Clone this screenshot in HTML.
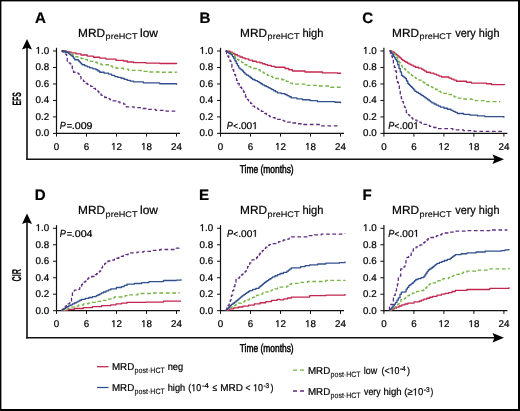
<!DOCTYPE html>
<html><head><meta charset="utf-8"><style>
html,body{margin:0;padding:0;background:#fff;width:520px;height:411px;overflow:hidden}
svg text{font-family:"Liberation Sans", sans-serif;text-rendering:geometricPrecision;fill:#000;stroke:#000;stroke-width:0.22px}
svg{will-change:transform}
.g1{fill:#000;stroke:#000;stroke-width:0.22px;vector-effect:non-scaling-stroke}
</style></head><body>
<svg xmlns="http://www.w3.org/2000/svg" width="520" height="411" viewBox="0 0 520 411" style="position:absolute;left:0;top:0">
<rect x="0" y="0" width="520" height="411" fill="#fff"/>
<line x1="27" y1="47" x2="27" y2="160.0" stroke="#111" stroke-width="1.6"/>
<line x1="26.2" y1="159.2" x2="496" y2="159.2" stroke="#111" stroke-width="1.6"/>
<path d="M27 39 L32 49.5 L27 47.8 L22 49.5 Z" fill="#000"/>
<path d="M504 159.2 L492.5 164.0 L494.5 159.2 L492.5 154.39999999999998 Z" fill="#000"/>
<line x1="27" y1="222" x2="27" y2="338.6" stroke="#111" stroke-width="1.6"/>
<line x1="26.2" y1="337.8" x2="496" y2="337.8" stroke="#111" stroke-width="1.6"/>
<path d="M27 213.5 L32 224.0 L27 222.3 L22 224.0 Z" fill="#000"/>
<path d="M504 337.8 L492.5 342.6 L494.5 337.8 L492.5 333.0 Z" fill="#000"/>
<line x1="56.5" y1="47.8" x2="56.5" y2="134.0" stroke="#111" stroke-width="1.2"/>
<line x1="55.9" y1="133.4" x2="180.0" y2="133.4" stroke="#111" stroke-width="1.2"/>
<line x1="53.0" y1="133.40" x2="56.5" y2="133.40" stroke="#111" stroke-width="1"/>
<text transform="translate(35.58,136.2) scale(1.0000,1)" font-size="9.8">0.0</text>
<line x1="53.0" y1="116.92" x2="56.5" y2="116.92" stroke="#111" stroke-width="1"/>
<text transform="translate(35.58,119.72) scale(1.0000,1)" font-size="9.8">0.2</text>
<line x1="53.0" y1="100.44" x2="56.5" y2="100.44" stroke="#111" stroke-width="1"/>
<text transform="translate(35.58,103.24) scale(1.0000,1)" font-size="9.8">0.4</text>
<line x1="53.0" y1="83.96" x2="56.5" y2="83.96" stroke="#111" stroke-width="1"/>
<text transform="translate(35.58,86.76) scale(1.0000,1)" font-size="9.8">0.6</text>
<line x1="53.0" y1="67.48" x2="56.5" y2="67.48" stroke="#111" stroke-width="1"/>
<text transform="translate(35.58,70.28) scale(1.0000,1)" font-size="9.8">0.8</text>
<line x1="53.0" y1="51.00" x2="56.5" y2="51.00" stroke="#111" stroke-width="1"/>
<text transform="translate(35.58,53.8) scale(1.0000,1)" font-size="9.8"> .0</text><path class="g1" transform="translate(35.58,53.8) scale(0.004785,-0.004785)" d="M515 0L515 1237L197 1010L197 1180L530 1409L696 1409L696 0Z"/>
<line x1="56.5" y1="133.4" x2="56.5" y2="136.6" stroke="#111" stroke-width="1"/>
<text transform="translate(53.77,149.8) scale(1.0000,1)" font-size="9.8">0</text>
<line x1="86.5" y1="133.4" x2="86.5" y2="136.6" stroke="#111" stroke-width="1"/>
<text transform="translate(83.77,149.8) scale(1.0000,1)" font-size="9.8">6</text>
<line x1="116.5" y1="133.4" x2="116.5" y2="136.6" stroke="#111" stroke-width="1"/>
<text transform="translate(111.05,149.8) scale(1.0000,1)" font-size="9.8"> 2</text><path class="g1" transform="translate(111.05,149.8) scale(0.004785,-0.004785)" d="M515 0L515 1237L197 1010L197 1180L530 1409L696 1409L696 0Z"/>
<line x1="146.5" y1="133.4" x2="146.5" y2="136.6" stroke="#111" stroke-width="1"/>
<text transform="translate(141.05,149.8) scale(1.0000,1)" font-size="9.8"> 8</text><path class="g1" transform="translate(141.05,149.8) scale(0.004785,-0.004785)" d="M515 0L515 1237L197 1010L197 1180L530 1409L696 1409L696 0Z"/>
<line x1="176.5" y1="133.4" x2="176.5" y2="136.6" stroke="#111" stroke-width="1"/>
<text transform="translate(171.05,149.8) scale(1.0000,1)" font-size="9.8">24</text>
<path d="M61.60 51.00H66.30V51.95H71.00V52.90H76.00V53.95H81.00V55.00H87.25V56.12H93.50V57.25H99.75V58.17H106.00V59.10H116.00V60.40H123.50V61.00H127.25V62.00H133.50V62.60H146.00V63.10H159.75V63.50H176.60V63.90" fill="none" stroke="#c2264e" stroke-width="1.3" stroke-linejoin="round"/>
<path d="M61.60 51.00H64.42V51.75H67.25V52.50H69.75V53.62H72.25V54.75H73.50V55.67H74.75V56.60H77.88V57.55H81.00V58.50H84.12V59.44H87.25V60.38H90.38V61.31H93.50V62.25H97.25V63.50H101.00V64.75H108.50V66.00H112.25V67.12H116.00V68.25H123.50V69.10H128.50V70.40H141.00V71.40H147.25V72.00H159.75V72.25H176.60V72.60" fill="none" stroke="#76b443" stroke-width="1.3" stroke-linejoin="round" stroke-dasharray="3.8 2.6"/>
<path d="M61.60 51.00H65.05V52.25H68.50V53.50H69.75V54.53H71.00V55.57H72.25V56.60H73.50V58.17H74.75V59.75H78.50V61.00H79.44V61.94H80.38V62.88H81.31V63.81H82.25V64.75H84.75V65.80H87.25V66.85H89.75V67.90H92.88V68.83H96.00V69.75H97.88V71.00H99.75V72.25H104.12V73.17H108.50V74.10H111.62V75.35H114.75V76.60H117.88V77.42H121.00V78.25H124.12V79.33H127.25V80.40H130.38V81.15H133.50V81.90H143.50V82.90H159.75V83.75H176.60V84.75" fill="none" stroke="#33508e" stroke-width="1.3" stroke-linejoin="round"/>
<path d="M61.60 51.00H62.87V52.03H64.13V53.07H65.40V54.10H66.60V58.50H67.25V61.00H68.19V61.94H69.12V62.88H70.06V63.81H71.00V64.75H72.25V68.50H73.50V72.25H76.00V73.17H78.50V74.10H79.75V76.60H81.00V79.10H82.25V80.20H83.50V81.30H84.75V82.40H86.00V83.50H87.56V84.44H89.12V85.38H90.69V86.31H92.25V87.25H93.80V88.30H95.35V89.35H96.90V90.40H97.94V91.60H98.98V92.80H100.02V94.00H101.06V95.20H102.10V96.40H104.70V97.50H107.30V98.60H109.90V99.70H112.50V100.80H116.23V101.93H119.97V103.07H123.70V104.20H125.00V105.50H126.30V106.80H134.10V107.65H141.90V108.50H148.80V109.40H155.70V110.30H166.10V111.10H176.50V111.10" fill="none" stroke="#5e2d80" stroke-width="1.3" stroke-linejoin="round" stroke-dasharray="3.7 2.6"/>
<line x1="220.5" y1="47.8" x2="220.5" y2="134.0" stroke="#111" stroke-width="1.2"/>
<line x1="219.9" y1="133.4" x2="344.0" y2="133.4" stroke="#111" stroke-width="1.2"/>
<line x1="217.0" y1="133.40" x2="220.5" y2="133.40" stroke="#111" stroke-width="1"/>
<text transform="translate(199.58,136.2) scale(1.0000,1)" font-size="9.8">0.0</text>
<line x1="217.0" y1="116.92" x2="220.5" y2="116.92" stroke="#111" stroke-width="1"/>
<text transform="translate(199.58,119.72) scale(1.0000,1)" font-size="9.8">0.2</text>
<line x1="217.0" y1="100.44" x2="220.5" y2="100.44" stroke="#111" stroke-width="1"/>
<text transform="translate(199.58,103.24) scale(1.0000,1)" font-size="9.8">0.4</text>
<line x1="217.0" y1="83.96" x2="220.5" y2="83.96" stroke="#111" stroke-width="1"/>
<text transform="translate(199.58,86.76) scale(1.0000,1)" font-size="9.8">0.6</text>
<line x1="217.0" y1="67.48" x2="220.5" y2="67.48" stroke="#111" stroke-width="1"/>
<text transform="translate(199.58,70.28) scale(1.0000,1)" font-size="9.8">0.8</text>
<line x1="217.0" y1="51.00" x2="220.5" y2="51.00" stroke="#111" stroke-width="1"/>
<text transform="translate(199.58,53.8) scale(1.0000,1)" font-size="9.8"> .0</text><path class="g1" transform="translate(199.58,53.8) scale(0.004785,-0.004785)" d="M515 0L515 1237L197 1010L197 1180L530 1409L696 1409L696 0Z"/>
<line x1="220.5" y1="133.4" x2="220.5" y2="136.6" stroke="#111" stroke-width="1"/>
<text transform="translate(217.77,149.8) scale(1.0000,1)" font-size="9.8">0</text>
<line x1="250.5" y1="133.4" x2="250.5" y2="136.6" stroke="#111" stroke-width="1"/>
<text transform="translate(247.77,149.8) scale(1.0000,1)" font-size="9.8">6</text>
<line x1="280.5" y1="133.4" x2="280.5" y2="136.6" stroke="#111" stroke-width="1"/>
<text transform="translate(275.05,149.8) scale(1.0000,1)" font-size="9.8"> 2</text><path class="g1" transform="translate(275.05,149.8) scale(0.004785,-0.004785)" d="M515 0L515 1237L197 1010L197 1180L530 1409L696 1409L696 0Z"/>
<line x1="310.5" y1="133.4" x2="310.5" y2="136.6" stroke="#111" stroke-width="1"/>
<text transform="translate(305.05,149.8) scale(1.0000,1)" font-size="9.8"> 8</text><path class="g1" transform="translate(305.05,149.8) scale(0.004785,-0.004785)" d="M515 0L515 1237L197 1010L197 1180L530 1409L696 1409L696 0Z"/>
<line x1="340.5" y1="133.4" x2="340.5" y2="136.6" stroke="#111" stroke-width="1"/>
<text transform="translate(335.05,149.8) scale(1.0000,1)" font-size="9.8">24</text>
<path d="M225.60 51.25H230.00V52.25H232.50V53.50H235.00V54.75H237.50V55.88H240.00V57.00H242.50V57.95H245.00V58.90H248.75V60.08H252.50V61.25H256.25V62.08H260.00V62.90H262.50V63.73H265.00V64.57H267.50V65.40H271.25V66.33H275.00V67.25H285.00V68.50H288.75V69.75H292.50V71.00H305.00V72.00H322.50V72.90H337.50V73.25H340.60V73.90" fill="none" stroke="#c2264e" stroke-width="1.3" stroke-linejoin="round"/>
<path d="M225.60 51.25H227.90V52.20H230.20V53.15H232.50V54.10H233.75V55.67H235.00V57.25H236.25V58.30H237.50V59.35H238.75V60.40H240.31V61.49H241.88V62.58H243.44V63.66H245.00V64.75H246.88V65.69H248.75V66.62H250.62V67.56H252.50V68.50H256.25V69.75H260.00V71.00H261.88V72.10H263.75V73.20H265.62V74.30H267.50V75.40H270.00V76.43H272.50V77.47H275.00V78.50H281.90V79.75H284.07V80.58H286.25V81.40H288.33V82.30H290.42V83.20H292.50V84.10H305.00V85.40H317.50V86.00H330.00V87.25H340.60V87.90" fill="none" stroke="#76b443" stroke-width="1.3" stroke-linejoin="round" stroke-dasharray="3.8 2.6"/>
<path d="M225.60 51.25H227.01V52.12H228.43V53.00H229.84V53.88H231.25V54.75H232.50V56.62H233.75V58.50H235.00V61.00H236.25V63.50H237.50V65.70H238.75V67.90H240.00V68.93H241.25V69.97H242.50V71.00H243.75V72.55H245.00V74.10H246.67V75.15H248.33V76.20H250.00V77.25H251.25V78.38H252.50V79.50H255.00V80.55H257.50V81.60H259.17V82.67H260.83V83.73H262.50V84.80H264.38V85.75H266.25V86.70H268.12V87.65H270.00V88.60H271.88V89.67H273.75V90.75H275.62V91.83H277.50V92.90H281.25V93.70H285.00V94.50H287.08V95.63H289.17V96.77H291.25V97.90H296.88V98.83H302.50V99.75H310.00V100.67H317.50V101.60H335.00V102.25H340.60V103.25" fill="none" stroke="#33508e" stroke-width="1.3" stroke-linejoin="round"/>
<path d="M225.60 51.25H226.55V53.62H227.50V56.00H228.75V58.50H230.00V61.00H230.95V64.12H231.90V67.25H232.82V69.75H233.75V72.25H234.68V74.75H235.60V77.25H236.55V80.38H237.50V83.50H239.20V86.00H240.35V87.25H241.50V88.50H242.50V90.25H243.50V92.00H244.50V94.50H245.50V97.00H246.50V98.27H247.50V99.53H248.50V100.80H249.60V102.12H250.70V103.45H251.80V104.77H252.90V106.10H254.60V107.16H256.30V108.22H258.00V109.28H259.70V110.34H261.40V111.40H263.08V112.46H264.76V113.52H266.44V114.58H268.12V115.64H269.80V116.70H272.45V117.60H275.10V118.50H277.75V119.40H280.40V120.30H283.93V121.20H287.47V122.10H291.00V123.00H297.35V123.75H303.70V124.50H320.60V125.80H339.70V126.20" fill="none" stroke="#5e2d80" stroke-width="1.3" stroke-linejoin="round" stroke-dasharray="3.7 2.6"/>
<line x1="383.9" y1="47.8" x2="383.9" y2="134.0" stroke="#111" stroke-width="1.2"/>
<line x1="383.29999999999995" y1="133.4" x2="507.4" y2="133.4" stroke="#111" stroke-width="1.2"/>
<line x1="380.4" y1="133.40" x2="383.9" y2="133.40" stroke="#111" stroke-width="1"/>
<text transform="translate(362.98,136.2) scale(1.0000,1)" font-size="9.8">0.0</text>
<line x1="380.4" y1="116.92" x2="383.9" y2="116.92" stroke="#111" stroke-width="1"/>
<text transform="translate(362.98,119.72) scale(1.0000,1)" font-size="9.8">0.2</text>
<line x1="380.4" y1="100.44" x2="383.9" y2="100.44" stroke="#111" stroke-width="1"/>
<text transform="translate(362.98,103.24) scale(1.0000,1)" font-size="9.8">0.4</text>
<line x1="380.4" y1="83.96" x2="383.9" y2="83.96" stroke="#111" stroke-width="1"/>
<text transform="translate(362.98,86.76) scale(1.0000,1)" font-size="9.8">0.6</text>
<line x1="380.4" y1="67.48" x2="383.9" y2="67.48" stroke="#111" stroke-width="1"/>
<text transform="translate(362.98,70.28) scale(1.0000,1)" font-size="9.8">0.8</text>
<line x1="380.4" y1="51.00" x2="383.9" y2="51.00" stroke="#111" stroke-width="1"/>
<text transform="translate(362.98,53.8) scale(1.0000,1)" font-size="9.8"> .0</text><path class="g1" transform="translate(362.98,53.8) scale(0.004785,-0.004785)" d="M515 0L515 1237L197 1010L197 1180L530 1409L696 1409L696 0Z"/>
<line x1="383.9" y1="133.4" x2="383.9" y2="136.6" stroke="#111" stroke-width="1"/>
<text transform="translate(381.17,149.8) scale(1.0000,1)" font-size="9.8">0</text>
<line x1="413.9" y1="133.4" x2="413.9" y2="136.6" stroke="#111" stroke-width="1"/>
<text transform="translate(411.17,149.8) scale(1.0000,1)" font-size="9.8">6</text>
<line x1="443.9" y1="133.4" x2="443.9" y2="136.6" stroke="#111" stroke-width="1"/>
<text transform="translate(438.45,149.8) scale(1.0000,1)" font-size="9.8"> 2</text><path class="g1" transform="translate(438.45,149.8) scale(0.004785,-0.004785)" d="M515 0L515 1237L197 1010L197 1180L530 1409L696 1409L696 0Z"/>
<line x1="473.9" y1="133.4" x2="473.9" y2="136.6" stroke="#111" stroke-width="1"/>
<text transform="translate(468.45,149.8) scale(1.0000,1)" font-size="9.8"> 8</text><path class="g1" transform="translate(468.45,149.8) scale(0.004785,-0.004785)" d="M515 0L515 1237L197 1010L197 1180L530 1409L696 1409L696 0Z"/>
<line x1="503.9" y1="133.4" x2="503.9" y2="136.6" stroke="#111" stroke-width="1"/>
<text transform="translate(498.45,149.8) scale(1.0000,1)" font-size="9.8">24</text>
<path d="M389.60 51.00H391.80V51.95H394.00V52.90H395.25V53.93H396.50V54.97H397.75V56.00H399.00V57.10H400.25V58.20H401.50V59.30H402.75V60.40H404.31V61.32H405.88V62.25H407.44V63.17H409.00V64.10H411.08V65.15H413.17V66.20H415.25V67.25H418.38V68.17H421.50V69.10H423.17V70.15H424.83V71.20H426.50V72.25H430.25V73.17H434.00V74.10H436.50V75.07H439.00V76.03H441.50V77.00H449.00V78.10H451.50V79.15H454.00V80.20H456.50V81.25H466.50V82.25H471.50V83.10H486.50V83.75H491.50V84.60H504.60V85.00" fill="none" stroke="#c2264e" stroke-width="1.3" stroke-linejoin="round"/>
<path d="M389.60 51.00H391.01V51.94H392.43V52.88H393.84V53.81H395.25V54.75H396.50V57.25H397.75V59.75H398.69V61.31H399.62V62.88H400.56V64.44H401.50V66.00H402.50V67.00H403.50V68.00H404.50V69.00H405.50V70.00H406.50V71.00H407.75V72.10H409.00V73.20H410.25V74.30H411.50V75.40H412.75V76.33H414.00V77.25H415.25V78.17H416.50V79.10H419.00V80.05H421.50V81.00H422.75V81.94H424.00V82.88H425.25V83.81H426.50V84.75H428.38V85.69H430.25V86.62H432.12V87.56H434.00V88.50H435.70V89.48H437.40V90.46H439.10V91.44H440.80V92.42H442.50V93.40H447.00V94.50H451.50V95.60H454.00V96.85H456.50V98.10H462.75V99.00H471.50V99.40H475.25V100.60H485.25V101.60H500.25V101.60" fill="none" stroke="#76b443" stroke-width="1.3" stroke-linejoin="round" stroke-dasharray="3.8 2.6"/>
<path d="M389.60 51.00H390.65V52.25H391.70V53.50H392.75V54.75H393.69V56.31H394.62V57.88H395.56V59.44H396.50V61.00H397.75V64.75H399.00V68.50H400.25V71.95H401.50V75.40H402.75V76.43H404.00V77.47H405.25V78.50H406.50V81.00H407.75V83.50H408.69V84.44H409.62V85.38H410.56V86.31H411.50V87.25H412.67V88.60H413.83V89.95H415.00V91.30H416.70V92.36H418.40V93.42H420.10V94.48H421.80V95.54H423.50V96.60H424.92V97.65H426.33V98.70H427.75V99.75H429.17V100.80H430.58V101.85H432.00V102.90H434.10V103.98H436.20V105.05H438.30V106.12H440.40V107.20H443.93V108.23H447.47V109.27H451.00V110.30H453.10V111.37H455.20V112.43H457.30V113.50H463.65V114.35H470.00V115.20H477.45V115.95H484.90V116.70H503.90V117.70" fill="none" stroke="#33508e" stroke-width="1.3" stroke-linejoin="round"/>
<path d="M389.60 51.00H390.55V53.50H391.50V56.00H392.45V59.75H393.40V63.50H394.32V67.25H395.25V71.00H396.50V78.50H397.45V82.25H398.40V86.00H399.32V90.38H400.25V94.75H401.30V98.70H402.37V101.53H403.43V104.37H404.50V107.20H405.40V109.95H406.30V112.70H407.37V113.75H408.43V114.80H409.50V115.85H410.57V116.90H411.63V117.95H412.70V119.00H414.82V120.08H416.95V121.15H419.07V122.22H421.20V123.30H424.00V124.33H426.80V125.37H429.60V126.40H433.80V127.50H438.00V128.60H452.90V129.80H463.45V130.55H474.00V131.30H503.70V131.80" fill="none" stroke="#5e2d80" stroke-width="1.3" stroke-linejoin="round" stroke-dasharray="3.7 2.6"/>
<line x1="56.5" y1="225.1" x2="56.5" y2="311.3" stroke="#111" stroke-width="1.2"/>
<line x1="55.9" y1="310.7" x2="180.0" y2="310.7" stroke="#111" stroke-width="1.2"/>
<line x1="53.0" y1="310.70" x2="56.5" y2="310.70" stroke="#111" stroke-width="1"/>
<text transform="translate(35.58,313.5) scale(1.0000,1)" font-size="9.8">0.0</text>
<line x1="53.0" y1="294.22" x2="56.5" y2="294.22" stroke="#111" stroke-width="1"/>
<text transform="translate(35.58,297.02) scale(1.0000,1)" font-size="9.8">0.2</text>
<line x1="53.0" y1="277.74" x2="56.5" y2="277.74" stroke="#111" stroke-width="1"/>
<text transform="translate(35.58,280.54) scale(1.0000,1)" font-size="9.8">0.4</text>
<line x1="53.0" y1="261.26" x2="56.5" y2="261.26" stroke="#111" stroke-width="1"/>
<text transform="translate(35.58,264.06) scale(1.0000,1)" font-size="9.8">0.6</text>
<line x1="53.0" y1="244.78" x2="56.5" y2="244.78" stroke="#111" stroke-width="1"/>
<text transform="translate(35.58,247.58) scale(1.0000,1)" font-size="9.8">0.8</text>
<line x1="53.0" y1="228.30" x2="56.5" y2="228.30" stroke="#111" stroke-width="1"/>
<text transform="translate(35.58,231.1) scale(1.0000,1)" font-size="9.8"> .0</text><path class="g1" transform="translate(35.58,231.1) scale(0.004785,-0.004785)" d="M515 0L515 1237L197 1010L197 1180L530 1409L696 1409L696 0Z"/>
<line x1="56.5" y1="310.7" x2="56.5" y2="313.9" stroke="#111" stroke-width="1"/>
<text transform="translate(53.77,327.1) scale(1.0000,1)" font-size="9.8">0</text>
<line x1="86.5" y1="310.7" x2="86.5" y2="313.9" stroke="#111" stroke-width="1"/>
<text transform="translate(83.77,327.1) scale(1.0000,1)" font-size="9.8">6</text>
<line x1="116.5" y1="310.7" x2="116.5" y2="313.9" stroke="#111" stroke-width="1"/>
<text transform="translate(111.05,327.1) scale(1.0000,1)" font-size="9.8"> 2</text><path class="g1" transform="translate(111.05,327.1) scale(0.004785,-0.004785)" d="M515 0L515 1237L197 1010L197 1180L530 1409L696 1409L696 0Z"/>
<line x1="146.5" y1="310.7" x2="146.5" y2="313.9" stroke="#111" stroke-width="1"/>
<text transform="translate(141.05,327.1) scale(1.0000,1)" font-size="9.8"> 8</text><path class="g1" transform="translate(141.05,327.1) scale(0.004785,-0.004785)" d="M515 0L515 1237L197 1010L197 1180L530 1409L696 1409L696 0Z"/>
<line x1="176.5" y1="310.7" x2="176.5" y2="313.9" stroke="#111" stroke-width="1"/>
<text transform="translate(171.05,327.1) scale(1.0000,1)" font-size="9.8">24</text>
<path d="M61.50 310.30H67.90V309.40H74.30V308.50H83.40V307.55H92.50V306.60H101.65V305.70H110.80V304.80H116.00V303.90H121.50V303.15H127.00V302.40H145.20V302.10H163.50V301.20H181.00V301.20" fill="none" stroke="#c2264e" stroke-width="1.3" stroke-linejoin="round"/>
<path d="M61.50 310.30H64.70V309.25H67.90V308.20H71.10V307.15H74.30V306.10H78.85V305.00H83.40V303.90H87.95V303.15H92.50V302.40H98.00V301.35H103.50V300.30H107.13V299.20H110.77V298.10H114.40V297.00H123.30V296.60H125.15V295.70H127.00V294.80H137.90V293.50H152.50V293.00H167.10V293.00H179.00V292.00" fill="none" stroke="#76b443" stroke-width="1.3" stroke-linejoin="round" stroke-dasharray="3.8 2.6"/>
<path d="M61.50 310.30H62.88V309.38H64.25V308.45H65.62V307.53H67.00V306.60H68.83V305.70H70.65V304.80H72.47V303.90H74.30V303.00H76.12V302.07H77.95V301.15H79.77V300.23H81.60V299.30H85.25V298.40H88.90V297.50H92.55V296.60H96.20V295.70H98.03V294.77H99.85V293.85H101.67V292.93H103.50V292.00H105.93V290.97H108.37V289.93H110.80V288.90H116.30V287.50H121.50V286.60H124.25V285.40H127.00V284.20H134.30V283.50H141.60V282.55H148.90V281.60H163.50V280.50H176.30V280.20H181.00V279.30" fill="none" stroke="#33508e" stroke-width="1.3" stroke-linejoin="round"/>
<path d="M61.50 310.30H62.42V309.38H63.33V308.47H64.25V307.55H65.17V306.63H66.08V305.72H67.00V304.80H68.20V303.90H69.40V303.00H70.60V302.10H71.50V297.55H72.40V293.00H73.35V291.60H74.30V290.20H78.80V289.30H79.73V287.77H80.67V286.23H81.60V284.70H82.50V283.80H83.40V282.90H84.30V282.00H85.20V281.10H86.12V280.18H87.05V279.25H87.98V278.32H88.90V277.40H91.60V276.50H94.30V275.60H95.40V274.68H96.50V273.76H97.60V272.84H98.70V271.92H99.80V271.00H100.72V269.40H101.65V267.80H102.58V266.20H103.50V264.60H104.62V263.70H105.75V262.80H106.88V261.90H108.00V261.00H111.20V260.10H114.40V259.20H116.62V258.27H118.85V257.35H121.08V256.43H123.30V255.50H125.73V254.60H128.17V253.70H130.60V252.80H137.00V252.05H143.40V251.30H151.60V250.40H159.80V249.50H176.30V248.20H179.00V247.30" fill="none" stroke="#5e2d80" stroke-width="1.3" stroke-linejoin="round" stroke-dasharray="3.7 2.6"/>
<line x1="220.5" y1="225.1" x2="220.5" y2="311.3" stroke="#111" stroke-width="1.2"/>
<line x1="219.9" y1="310.7" x2="344.0" y2="310.7" stroke="#111" stroke-width="1.2"/>
<line x1="217.0" y1="310.70" x2="220.5" y2="310.70" stroke="#111" stroke-width="1"/>
<text transform="translate(199.58,313.5) scale(1.0000,1)" font-size="9.8">0.0</text>
<line x1="217.0" y1="294.22" x2="220.5" y2="294.22" stroke="#111" stroke-width="1"/>
<text transform="translate(199.58,297.02) scale(1.0000,1)" font-size="9.8">0.2</text>
<line x1="217.0" y1="277.74" x2="220.5" y2="277.74" stroke="#111" stroke-width="1"/>
<text transform="translate(199.58,280.54) scale(1.0000,1)" font-size="9.8">0.4</text>
<line x1="217.0" y1="261.26" x2="220.5" y2="261.26" stroke="#111" stroke-width="1"/>
<text transform="translate(199.58,264.06) scale(1.0000,1)" font-size="9.8">0.6</text>
<line x1="217.0" y1="244.78" x2="220.5" y2="244.78" stroke="#111" stroke-width="1"/>
<text transform="translate(199.58,247.58) scale(1.0000,1)" font-size="9.8">0.8</text>
<line x1="217.0" y1="228.30" x2="220.5" y2="228.30" stroke="#111" stroke-width="1"/>
<text transform="translate(199.58,231.1) scale(1.0000,1)" font-size="9.8"> .0</text><path class="g1" transform="translate(199.58,231.1) scale(0.004785,-0.004785)" d="M515 0L515 1237L197 1010L197 1180L530 1409L696 1409L696 0Z"/>
<line x1="220.5" y1="310.7" x2="220.5" y2="313.9" stroke="#111" stroke-width="1"/>
<text transform="translate(217.77,327.1) scale(1.0000,1)" font-size="9.8">0</text>
<line x1="250.5" y1="310.7" x2="250.5" y2="313.9" stroke="#111" stroke-width="1"/>
<text transform="translate(247.77,327.1) scale(1.0000,1)" font-size="9.8">6</text>
<line x1="280.5" y1="310.7" x2="280.5" y2="313.9" stroke="#111" stroke-width="1"/>
<text transform="translate(275.05,327.1) scale(1.0000,1)" font-size="9.8"> 2</text><path class="g1" transform="translate(275.05,327.1) scale(0.004785,-0.004785)" d="M515 0L515 1237L197 1010L197 1180L530 1409L696 1409L696 0Z"/>
<line x1="310.5" y1="310.7" x2="310.5" y2="313.9" stroke="#111" stroke-width="1"/>
<text transform="translate(305.05,327.1) scale(1.0000,1)" font-size="9.8"> 8</text><path class="g1" transform="translate(305.05,327.1) scale(0.004785,-0.004785)" d="M515 0L515 1237L197 1010L197 1180L530 1409L696 1409L696 0Z"/>
<line x1="340.5" y1="310.7" x2="340.5" y2="313.9" stroke="#111" stroke-width="1"/>
<text transform="translate(335.05,327.1) scale(1.0000,1)" font-size="9.8">24</text>
<path d="M225.70 310.10H229.70V308.95H233.70V307.80H238.30V307.00H242.90V306.20H248.60V305.05H254.30V303.90H260.05V302.75H265.80V301.60H271.50V300.45H277.20V299.30H280.00V299.80H283.80V298.90H287.60V298.00H291.40V297.10H309.70V295.70H325.80V295.20H345.00V294.10" fill="none" stroke="#c2264e" stroke-width="1.3" stroke-linejoin="round"/>
<path d="M225.70 310.10H227.30V309.18H228.90V308.26H230.50V307.34H232.10V306.42H233.70V305.50H236.00V304.35H238.30V303.20H241.37V302.07H244.43V300.93H247.50V299.80H249.32V298.88H251.14V297.96H252.96V297.04H254.78V296.12H256.60V295.20H259.67V294.07H262.73V292.93H265.80V291.80H268.83V290.80H271.87V289.80H274.90V288.80H277.45V288.00H280.00V287.20H286.90V286.10H288.40V285.17H289.90V284.23H291.40V283.30H299.45V282.40H307.50V281.50H325.80V280.40H345.00V279.90" fill="none" stroke="#76b443" stroke-width="1.3" stroke-linejoin="round" stroke-dasharray="3.8 2.6"/>
<path d="M225.70 310.10H226.65V309.15H227.60V308.20H228.55V307.25H229.50V306.30H230.45V305.35H231.40V304.40H232.93V303.27H234.47V302.13H236.00V301.00H237.15V300.03H238.30V299.07H239.45V298.10H240.60V297.13H241.75V296.17H242.90V295.20H244.26V294.28H245.62V293.36H246.98V292.44H248.34V291.52H249.70V290.60H252.77V289.47H255.83V288.33H258.90V287.20H260.05V286.25H261.20V285.30H262.35V284.35H263.50V283.40H264.65V282.45H265.80V281.50H267.16V280.58H268.52V279.66H269.88V278.74H271.24V277.82H272.60V276.90H275.07V275.77H277.53V274.63H280.00V273.50H283.45V272.35H286.90V271.20H288.40V270.07H289.90V268.93H291.40V267.80H300.60V266.60H305.15V265.70H309.70V264.80H317.75V264.00H325.80V263.20H339.50V262.70H345.00V261.40" fill="none" stroke="#33508e" stroke-width="1.3" stroke-linejoin="round"/>
<path d="M225.70 310.10H226.85V307.80H228.00V305.50H229.15V302.65H230.30V299.80H231.45V295.20H232.60V290.60H233.75V286.60H234.90V282.60H236.00V278.10H239.50V276.90H240.45V275.95H241.40V275.00H242.35V274.05H243.30V273.10H244.25V272.15H245.20V271.20H246.33V268.90H247.47V266.60H248.60V264.30H249.73V262.80H250.87V261.30H252.00V259.80H254.30V258.65H256.60V257.50H257.52V256.34H258.44V255.18H259.36V254.02H260.28V252.86H261.20V251.70H262.35V250.57H263.50V249.45H264.65V248.32H265.80V247.20H266.93V246.32H268.05V245.45H269.18V244.57H270.30V243.70H277.20V242.60H278.60V241.70H280.00V240.80H283.45V240.00H286.90V239.20H289.15V238.05H291.40V236.90H307.50V235.70H314.35V234.90H321.20V234.10H345.00V233.40" fill="none" stroke="#5e2d80" stroke-width="1.3" stroke-linejoin="round" stroke-dasharray="3.7 2.6"/>
<line x1="383.9" y1="225.1" x2="383.9" y2="311.3" stroke="#111" stroke-width="1.2"/>
<line x1="383.29999999999995" y1="310.7" x2="507.4" y2="310.7" stroke="#111" stroke-width="1.2"/>
<line x1="380.4" y1="310.70" x2="383.9" y2="310.70" stroke="#111" stroke-width="1"/>
<text transform="translate(362.98,313.5) scale(1.0000,1)" font-size="9.8">0.0</text>
<line x1="380.4" y1="294.22" x2="383.9" y2="294.22" stroke="#111" stroke-width="1"/>
<text transform="translate(362.98,297.02) scale(1.0000,1)" font-size="9.8">0.2</text>
<line x1="380.4" y1="277.74" x2="383.9" y2="277.74" stroke="#111" stroke-width="1"/>
<text transform="translate(362.98,280.54) scale(1.0000,1)" font-size="9.8">0.4</text>
<line x1="380.4" y1="261.26" x2="383.9" y2="261.26" stroke="#111" stroke-width="1"/>
<text transform="translate(362.98,264.06) scale(1.0000,1)" font-size="9.8">0.6</text>
<line x1="380.4" y1="244.78" x2="383.9" y2="244.78" stroke="#111" stroke-width="1"/>
<text transform="translate(362.98,247.58) scale(1.0000,1)" font-size="9.8">0.8</text>
<line x1="380.4" y1="228.30" x2="383.9" y2="228.30" stroke="#111" stroke-width="1"/>
<text transform="translate(362.98,231.1) scale(1.0000,1)" font-size="9.8"> .0</text><path class="g1" transform="translate(362.98,231.1) scale(0.004785,-0.004785)" d="M515 0L515 1237L197 1010L197 1180L530 1409L696 1409L696 0Z"/>
<line x1="383.9" y1="310.7" x2="383.9" y2="313.9" stroke="#111" stroke-width="1"/>
<text transform="translate(381.17,327.1) scale(1.0000,1)" font-size="9.8">0</text>
<line x1="413.9" y1="310.7" x2="413.9" y2="313.9" stroke="#111" stroke-width="1"/>
<text transform="translate(411.17,327.1) scale(1.0000,1)" font-size="9.8">6</text>
<line x1="443.9" y1="310.7" x2="443.9" y2="313.9" stroke="#111" stroke-width="1"/>
<text transform="translate(438.45,327.1) scale(1.0000,1)" font-size="9.8"> 2</text><path class="g1" transform="translate(438.45,327.1) scale(0.004785,-0.004785)" d="M515 0L515 1237L197 1010L197 1180L530 1409L696 1409L696 0Z"/>
<line x1="473.9" y1="310.7" x2="473.9" y2="313.9" stroke="#111" stroke-width="1"/>
<text transform="translate(468.45,327.1) scale(1.0000,1)" font-size="9.8"> 8</text><path class="g1" transform="translate(468.45,327.1) scale(0.004785,-0.004785)" d="M515 0L515 1237L197 1010L197 1180L530 1409L696 1409L696 0Z"/>
<line x1="503.9" y1="310.7" x2="503.9" y2="313.9" stroke="#111" stroke-width="1"/>
<text transform="translate(498.45,327.1) scale(1.0000,1)" font-size="9.8">24</text>
<path d="M389.50 310.10H391.83V309.10H394.17V308.10H396.50V307.10H399.15V306.00H401.80V304.90H404.85V304.00H407.90V303.10H414.00V301.80H419.30V301.00H421.55V300.10H423.80V299.20H426.73V298.23H429.67V297.27H432.60V296.30H437.00V295.20H441.40V294.10H445.05V293.35H448.70V292.60H452.00V291.50H455.30V290.40H466.90V289.50H489.80V288.40H509.00V287.20" fill="none" stroke="#c2264e" stroke-width="1.3" stroke-linejoin="round"/>
<path d="M389.50 310.10H391.30V309.30H392.60V308.43H393.90V307.55H395.20V306.68H396.50V305.80H397.80V304.05H399.10V302.30H400.90V299.60H404.40V298.30H405.57V297.43H406.73V296.57H407.90V295.70H409.37V294.83H410.83V293.97H412.30V293.10H414.45V292.20H416.60V291.30H420.20V290.50H423.80V289.70H424.80V288.73H425.80V287.77H426.80V286.80H427.77V285.83H428.73V284.87H429.70V283.90H432.60V282.80H435.50V281.70H437.97V280.70H440.43V279.70H442.90V278.70H448.70V277.30H450.90V276.33H453.10V275.37H455.30V274.40H459.17V273.33H463.03V272.27H466.90V271.20H478.35V270.05H489.80V268.90H509.00V267.80" fill="none" stroke="#76b443" stroke-width="1.3" stroke-linejoin="round" stroke-dasharray="3.8 2.6"/>
<path d="M389.50 310.10H390.67V308.67H391.83V307.23H393.00V305.80H394.30V304.05H395.60V302.30H396.95V300.10H398.30V297.90H400.00V294.40H401.30V292.20H404.40V291.80H406.10V289.10H407.45V287.35H408.80V285.60H409.97V284.73H411.13V283.87H412.30V283.00H413.47V281.83H414.63V280.67H415.80V279.50H418.00V278.70H420.90V277.60H423.80V276.50H424.90V274.88H426.00V273.25H427.10V271.62H428.20V270.00H429.67V269.00H431.13V268.00H432.60V267.00H433.70V266.10H434.80V265.20H435.90V264.30H437.00V263.40H439.43V262.43H441.87V261.47H444.30V260.50H447.25V259.40H450.20V258.30H451.48V257.38H452.75V256.45H454.02V255.53H455.30V254.60H461.10V253.75H466.90V252.90H476.05V252.00H485.20V251.10H501.20V250.60H505.10V249.80H509.00V249.00" fill="none" stroke="#33508e" stroke-width="1.3" stroke-linejoin="round"/>
<path d="M389.50 310.10H389.50V304.50H392.60V304.50H393.40V297.90H394.30V295.30H395.20V290.90H396.50V287.40H397.40V283.90H398.30V277.80H399.70V276.20H400.70V268.90H402.30V267.85H403.90V266.80H404.93V263.67H405.97V260.53H407.00V257.40H408.60V256.35H410.20V255.30H411.23V253.20H412.27V251.10H413.30V249.00H414.70V247.97H416.10V246.93H417.50V245.90H419.95V244.80H422.40V243.70H423.50V242.77H424.60V241.85H425.70V240.93H426.80V240.00H427.90V238.75H429.00V237.50H434.20V236.50H436.65V235.62H439.10V234.75H441.55V233.88H444.00V233.00H448.60V232.10H453.20V231.20H466.90V230.70H489.80V230.00H506.90V229.60" fill="none" stroke="#5e2d80" stroke-width="1.3" stroke-linejoin="round" stroke-dasharray="3.7 2.6"/>
<text x="34.9" y="22.8" font-size="15.1" font-weight="bold">A</text>
<text x="199.4" y="22.6" font-size="15.1" font-weight="bold">B</text>
<text x="362.2" y="22.8" font-size="15.1" font-weight="bold">C</text>
<text x="34.7" y="199.9" font-size="15.1" font-weight="bold">D</text>
<text x="198.9" y="199.8" font-size="15.1" font-weight="bold">E</text>
<text x="362.6" y="199.9" font-size="15.1" font-weight="bold">F</text>
<text transform="translate(78.08,36.6) scale(1.0063,1)" font-size="11.8">MRD</text>
<text transform="translate(105.56,39.1) scale(1.1148,1)" font-size="8.2" style="stroke-width:0.1px">preHCT</text>
<text transform="translate(140.04,36.6) scale(1.0154,1)" font-size="11.8">low</text>
<text transform="translate(240.08,36.6) scale(1.0063,1)" font-size="11.8">MRD</text>
<text transform="translate(267.56,39.1) scale(1.1148,1)" font-size="8.2" style="stroke-width:0.1px">preHCT</text>
<text transform="translate(302.38,36.6) scale(0.9457,1)" font-size="11.8">high</text>
<text transform="translate(392.08,36.6) scale(1.0063,1)" font-size="11.8">MRD</text>
<text transform="translate(419.56,39.1) scale(1.1148,1)" font-size="8.2" style="stroke-width:0.1px">preHCT</text>
<text transform="translate(455.21,36.6) scale(0.9241,1)" font-size="11.8">very high</text>
<text transform="translate(78.08,214.1) scale(1.0063,1)" font-size="11.8">MRD</text>
<text transform="translate(105.56,216.6) scale(1.1148,1)" font-size="8.2" style="stroke-width:0.1px">preHCT</text>
<text transform="translate(140.04,214.1) scale(1.0154,1)" font-size="11.8">low</text>
<text transform="translate(240.08,214.1) scale(1.0063,1)" font-size="11.8">MRD</text>
<text transform="translate(267.56,216.6) scale(1.1148,1)" font-size="8.2" style="stroke-width:0.1px">preHCT</text>
<text transform="translate(302.38,214.1) scale(0.9457,1)" font-size="11.8">high</text>
<text transform="translate(392.08,214.1) scale(1.0063,1)" font-size="11.8">MRD</text>
<text transform="translate(419.56,216.6) scale(1.1148,1)" font-size="8.2" style="stroke-width:0.1px">preHCT</text>
<text transform="translate(455.21,214.1) scale(0.9241,1)" font-size="11.8">very high</text>
<text transform="translate(59.72,129.0) scale(0.8872,1)" font-size="10.2" font-style="italic">P</text>
<text transform="translate(66.70,128.9) scale(0.9648,1)" font-size="9.6">=</text>
<text transform="translate(71.78,129.1) scale(1.0895,1)" font-size="9.8">.009</text>
<text transform="translate(226.82,129.0) scale(0.8872,1)" font-size="10.2" font-style="italic">P</text>
<text transform="translate(233.15,128.9) scale(0.8919,1)" font-size="9.0">&lt;</text>
<text transform="translate(238.13,129.1) scale(1.0337,1)" font-size="9.8">.00 </text><path class="g1" transform="translate(252.21,129.1) scale(0.004946,-0.004785)" d="M515 0L515 1237L197 1010L197 1180L530 1409L696 1409L696 0Z"/>
<text transform="translate(388.22,129.0) scale(0.8872,1)" font-size="10.2" font-style="italic">P</text>
<text transform="translate(394.55,128.9) scale(0.8919,1)" font-size="9.0">&lt;</text>
<text transform="translate(399.55,129.1) scale(1.0088,1)" font-size="9.8">.00 </text><path class="g1" transform="translate(413.29,129.1) scale(0.004827,-0.004785)" d="M515 0L515 1237L197 1010L197 1180L530 1409L696 1409L696 0Z"/>
<text transform="translate(59.72,236.6) scale(0.8872,1)" font-size="10.2" font-style="italic">P</text>
<text transform="translate(66.70,236.5) scale(0.9648,1)" font-size="9.6">=</text>
<text transform="translate(71.77,236.7) scale(1.0899,1)" font-size="9.8">.004</text>
<text transform="translate(226.92,236.6) scale(0.8872,1)" font-size="10.2" font-style="italic">P</text>
<text transform="translate(233.25,236.5) scale(0.8919,1)" font-size="9.0">&lt;</text>
<text transform="translate(238.23,236.7) scale(1.0337,1)" font-size="9.8">.00 </text><path class="g1" transform="translate(252.31,236.7) scale(0.004946,-0.004785)" d="M515 0L515 1237L197 1010L197 1180L530 1409L696 1409L696 0Z"/>
<text transform="translate(388.22,236.6) scale(0.8872,1)" font-size="10.2" font-style="italic">P</text>
<text transform="translate(394.55,236.5) scale(0.8919,1)" font-size="9.0">&lt;</text>
<text transform="translate(399.53,236.7) scale(1.0275,1)" font-size="9.8">.00 </text><path class="g1" transform="translate(413.53,236.7) scale(0.004917,-0.004785)" d="M515 0L515 1237L197 1010L197 1180L530 1409L696 1409L696 0Z"/>
<text transform="translate(266.7,172.9) scale(0.745,1)" font-size="11.3" text-anchor="middle" font-weight="normal" style="stroke-width:0.5px">Time (months)</text>
<text transform="translate(266.7,351.7) scale(0.745,1)" font-size="11.3" text-anchor="middle" font-weight="normal" style="stroke-width:0.5px">Time (months)</text>
<text transform="translate(20.6,98.9) rotate(-90) scale(0.565,1)" font-size="12.2" text-anchor="middle" font-weight="bold">EFS</text>
<text transform="translate(21.0,275.2) rotate(-90) scale(0.57,1)" font-size="12.8" text-anchor="middle" font-weight="bold">CIR</text>
<line x1="97" y1="366.7" x2="108.5" y2="366.7" stroke="#c2264e" stroke-width="1.3"/>
<line x1="97" y1="387.5" x2="108.5" y2="387.5" stroke="#33508e" stroke-width="1.3"/>
<line x1="293" y1="370.2" x2="304" y2="370.2" stroke="#76b443" stroke-width="1.3" stroke-dasharray="4 3"/>
<line x1="293" y1="391" x2="304" y2="391" stroke="#5e2d80" stroke-width="1.3" stroke-dasharray="4 3"/>
<text transform="translate(111.95,369.9) scale(0.9779,1)" font-size="10.0">MRD</text>
<text transform="translate(134.59,372.59999999999997) scale(0.9055,1)" font-size="7.8" style="stroke-width:0.1px">post·HCT</text>
<text transform="translate(167.63,369.9) scale(0.9300,1)" font-size="10.0">neg</text>
<text transform="translate(111.95,391.2) scale(0.9779,1)" font-size="10.0">MRD</text>
<text transform="translate(134.59,393.9) scale(0.9055,1)" font-size="7.8" style="stroke-width:0.1px">post·HCT</text>
<text transform="translate(167.71,391.2) scale(0.9224,1)" font-size="10.0">high</text>
<text transform="translate(188.30,391.2) scale(0.8853,1)" font-size="10.0">( 0</text><path class="g1" transform="translate(191.25,391.2) scale(0.004323,-0.004883)" d="M515 0L515 1237L197 1010L197 1180L530 1409L696 1409L696 0Z"/>
<text transform="translate(202.00,387.9) scale(1.1212,1)" font-size="7.0">-4</text>
<text transform="translate(212.49,391.2) scale(0.8422,1)" font-size="10.0">≤</text>
<text transform="translate(220.23,391.2) scale(0.9965,1)" font-size="10.0">MRD</text>
<text transform="translate(245.43,391.2) scale(0.8439,1)" font-size="10.0">&lt;</text>
<text transform="translate(253.09,391.2) scale(0.8904,1)" font-size="10.0"> 0</text><path class="g1" transform="translate(253.09,391.2) scale(0.004348,-0.004883)" d="M515 0L515 1237L197 1010L197 1180L530 1409L696 1409L696 0Z"/>
<text transform="translate(263.46,387.9) scale(0.9277,1)" font-size="7.0">-3</text>
<text transform="translate(270.60,391.2) scale(0.9052,1)" font-size="10.0">)</text>
<text transform="translate(307.95,374.1) scale(0.9779,1)" font-size="10.0">MRD</text>
<text transform="translate(330.60,376.8) scale(0.8994,1)" font-size="7.8" style="stroke-width:0.1px">post·HCT</text>
<text transform="translate(363.85,374.1) scale(0.8916,1)" font-size="10.0">low</text>
<text transform="translate(381.50,374.1) scale(0.8868,1)" font-size="10.0">(&lt; 0</text><path class="g1" transform="translate(389.63,374.1) scale(0.004330,-0.004883)" d="M515 0L515 1237L197 1010L197 1180L530 1409L696 1409L696 0Z"/>
<text transform="translate(399.96,370.8) scale(0.9285,1)" font-size="7.0">-4</text>
<text transform="translate(407.10,374.1) scale(0.9052,1)" font-size="10.0">)</text>
<text transform="translate(307.95,395.4) scale(0.9779,1)" font-size="10.0">MRD</text>
<text transform="translate(330.60,398.09999999999997) scale(0.8994,1)" font-size="7.8" style="stroke-width:0.1px">post·HCT</text>
<text transform="translate(364.12,395.4) scale(0.8706,1)" font-size="10.0">very</text>
<text transform="translate(383.49,395.4) scale(0.9565,1)" font-size="10.0">high</text>
<text transform="translate(404.26,395.4) scale(0.9508,1)" font-size="10.0">(≥ 0</text><path class="g1" transform="translate(412.65,395.4) scale(0.004643,-0.004883)" d="M515 0L515 1237L197 1010L197 1180L530 1409L696 1409L696 0Z"/>
<text transform="translate(423.76,392.09999999999997) scale(0.9455,1)" font-size="7.0">-3</text>
<text transform="translate(430.60,395.4) scale(0.8298,1)" font-size="10.0">)</text>
<rect x="0" y="0" width="520" height="1.4" fill="#000"/>
<rect x="0" y="0" width="1.4" height="411" fill="#000"/>
<rect x="518" y="0" width="2" height="411" fill="#000"/>
<rect x="0" y="409" width="520" height="2" fill="#000"/>
</svg>
</body></html>
